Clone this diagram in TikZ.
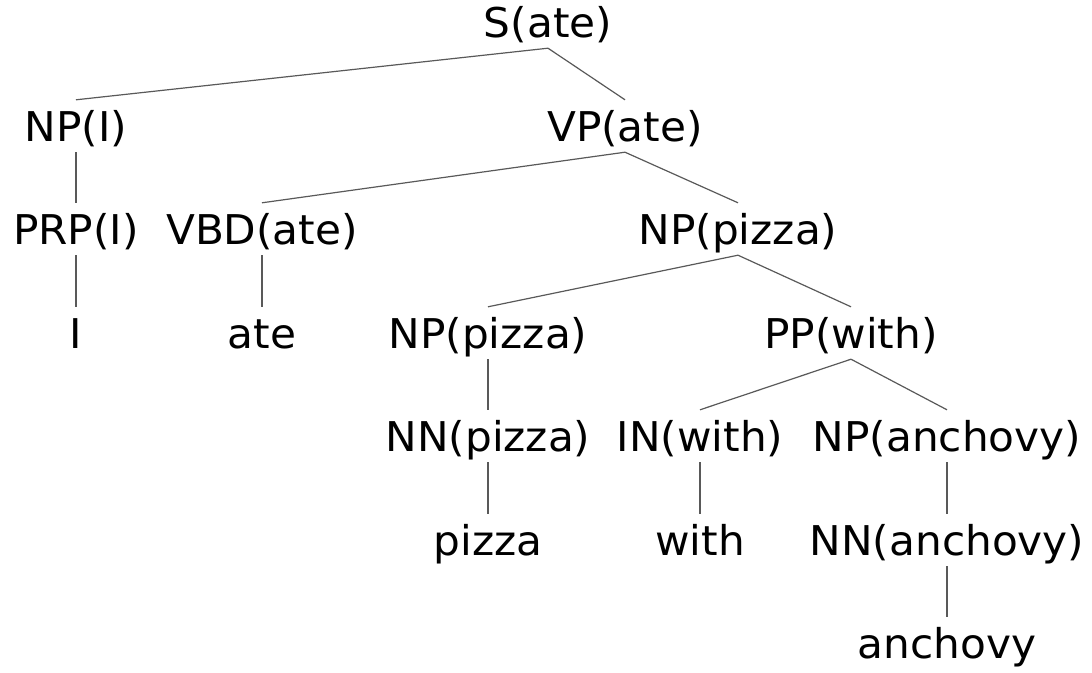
\documentclass[tikz,border=0pt]{standalone}
\usepackage{fontspec}
\usepackage{graphicx}
\setmainfont{DejaVu Sans}
\newcommand{\lbl}[1]{\scalebox{1.03}[1]{#1}}
\tikzset{
  x=1pt, y=1pt,
  tn/.style={anchor=base, inner sep=0pt, text height=41pt, text depth=11pt,
    font=\fontsize{41}{48}\selectfont},
  edge/.style={draw=black!65, line width=1.2pt}
}
\begin{document}
\begin{tikzpicture}
\useasboundingbox (0,0) rectangle (1092,-672);
% level 0
\node[tn] (s) at (548,-37) {\lbl{S(ate)}};
% level 1
\node[tn] (npi) at (76,-141) {\lbl{NP(I)}};
\node[tn] (vp) at (625,-141) {\lbl{VP(ate)}};
% level 2
\node[tn] (prp) at (76,-244) {\lbl{PRP(I)}};
\node[tn] (vbd) at (262,-244) {\lbl{VBD(ate)}};
\node[tn] (npp) at (738,-244) {\lbl{NP(pizza)}};
% level 3
\node[tn] (wi) at (76,-348) {\lbl{I}};
\node[tn] (wate) at (262,-348) {\lbl{ate}};
\node[tn] (npp2) at (488,-348) {\lbl{NP(pizza)}};
\node[tn] (pp) at (851,-348) {\lbl{PP(with)}};
% level 4
\node[tn] (nn) at (488,-451) {\lbl{NN(pizza)}};
\node[tn] (in) at (700,-451) {\lbl{IN(with)}};
\node[tn] (npa) at (947,-451) {\lbl{NP(anchovy)}};
% level 5
\node[tn] (wpizza) at (488,-555) {\lbl{pizza}};
\node[tn] (wwith) at (700,-555) {\lbl{with}};
\node[tn] (nna) at (947,-555) {\lbl{NN(anchovy)}};
% level 6
\node[tn] (wanch) at (947,-658) {\lbl{anchovy}};
% edges
\path[edge] (s.south) -- (npi.north);
\path[edge] (s.south) -- (vp.north);
\path[edge] (npi.south) -- (prp.north);
\path[edge] (vp.south) -- (vbd.north);
\path[edge] (vp.south) -- (npp.north);
\path[edge] (prp.south) -- (wi.north);
\path[edge] (vbd.south) -- (wate.north);
\path[edge] (npp.south) -- (npp2.north);
\path[edge] (npp.south) -- (pp.north);
\path[edge] (npp2.south) -- (nn.north);
\path[edge] (pp.south) -- (in.north);
\path[edge] (pp.south) -- (npa.north);
\path[edge] (nn.south) -- (wpizza.north);
\path[edge] (in.south) -- (wwith.north);
\path[edge] (npa.south) -- (nna.north);
\path[edge] (nna.south) -- (wanch.north);
\end{tikzpicture}
\end{document}
